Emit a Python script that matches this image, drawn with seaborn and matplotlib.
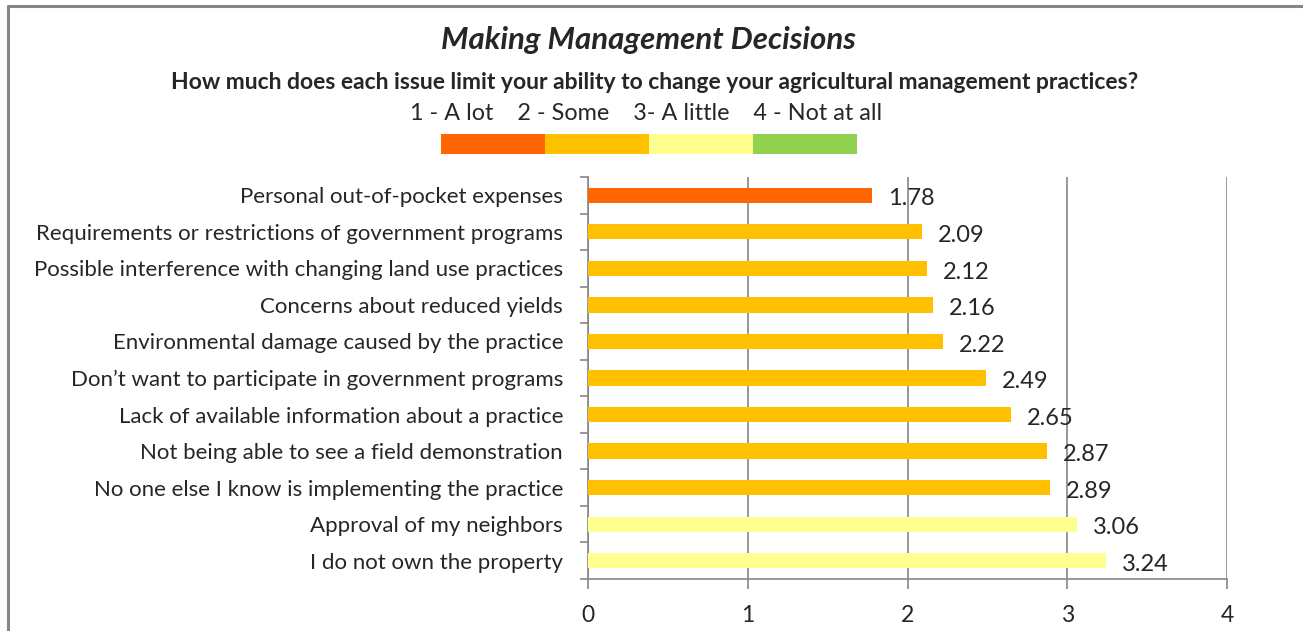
import numpy as np
import pandas as pd
import matplotlib.pyplot as plt
import seaborn as sns

# --- data --------------------------------------------------------------
issues = [
    "Personal out-of-pocket expenses",
    "Requirements or restrictions of government programs",
    "Possible interference with changing land use practices",
    "Concerns about reduced yields",
    "Environmental damage caused by the practice",
    "Don\u2019t want to participate in government programs",
    "Lack of available information about a practice",
    "Not being able to see a field demonstration",
    "No one else I know is implementing the practice",
    "Approval of my neighbors",
    "I do not own the property",
]
scores = [1.78, 2.09, 2.12, 2.16, 2.22, 2.49, 2.65, 2.87, 2.89, 3.06, 3.24]

scale_labels = ["1 - A lot", "2 - Some", "3- A little", "4 - Not at all"]
scale_colors = ["#FF6600", "#FFC000", "#FFFF8F", "#92D050"]
x_ticks = [0, 1, 2, 3, 4]

GRAY = "#868686"
FONT = ["Lato", "DejaVu Sans"]

sns.set_theme(style="white")
plt.rcParams["font.family"] = FONT

df = pd.DataFrame({"issue": issues, "score": scores})
# colour each bar by the response band it falls in (1-2, 2-3, 3-4)
bar_colors = [scale_colors[min(int(s) - 1, 3)] for s in scores]

fig = plt.figure(figsize=(13.03, 6.31), dpi=100)
ax = fig.add_axes([0.4513, 0.0824, 0.4904, 0.6371])

sns.barplot(data=df, y="issue", x="score", hue="issue", palette=bar_colors,
            legend=False, width=0.42, saturation=1, linewidth=0, ax=ax, zorder=3)

ax.set_xlim(0, 4)
ax.set_ylim(len(issues) - 0.5, -0.5)
ax.set_xticks(x_ticks)
ax.set_xticklabels([str(t) for t in x_ticks], fontsize=16.5)
ax.set_xlabel("")
ax.set_ylabel("")
ax.set_yticks(np.arange(len(issues) + 1) - 0.5, minor=True)
ax.tick_params(axis="y", which="major", labelsize=16, left=True, length=0, pad=18)
ax.tick_params(axis="y", which="minor", left=True, length=6, width=1.2,
               color=GRAY, direction="out")
ax.tick_params(axis="x", bottom=True, length=7, width=1.2, color=GRAY,
               direction="out", pad=12)

ax.xaxis.grid(True, color=GRAY, linewidth=1.2)
ax.set_axisbelow(True)
for side in ["top", "right"]:
    ax.spines[side].set_visible(False)
for side in ["left", "bottom"]:
    ax.spines[side].set_color(GRAY)
    ax.spines[side].set_linewidth(1.2)

for i, s in enumerate(scores):
    ax.text(s + 0.1, i + 0.1, f"{s:.2f}", va="center", ha="left", fontsize=17, zorder=4)

# --- titles and colour key --------------------------------------------
fig.text(0.498, 0.937, "Making Management Decisions", ha="center", va="center",
         fontsize=22.5, fontweight="bold", fontstyle="italic")
fig.text(0.502, 0.869, "How much does each issue limit your ability to change your "
         "agricultural management practices?", ha="center", va="center",
         fontsize=16.5, fontweight="bold")
fig.text(0.496, 0.820, "    ".join(scale_labels), ha="center", va="center", fontsize=16.8)

kax = fig.add_axes([441 / 1303, 1 - 154 / 631, 416 / 1303, 20 / 631])
kax.barh([0] * 4, [1] * 4, left=np.arange(4), color=scale_colors, height=1,
         linewidth=0)
kax.set_xlim(0, 4)
kax.set_ylim(-0.5, 0.5)
kax.axis("off")

# frame of the original chart area (top and left edges only)
fig.add_artist(plt.Line2D([8 / 1303, 1], [1 - 6 / 631] * 2, color=GRAY, lw=2.2,
                          transform=fig.transFigure))
fig.add_artist(plt.Line2D([8 / 1303] * 2, [0, 1 - 6 / 631], color=GRAY, lw=2.2,
                          transform=fig.transFigure))

fig.savefig("out.png", dpi=100)
